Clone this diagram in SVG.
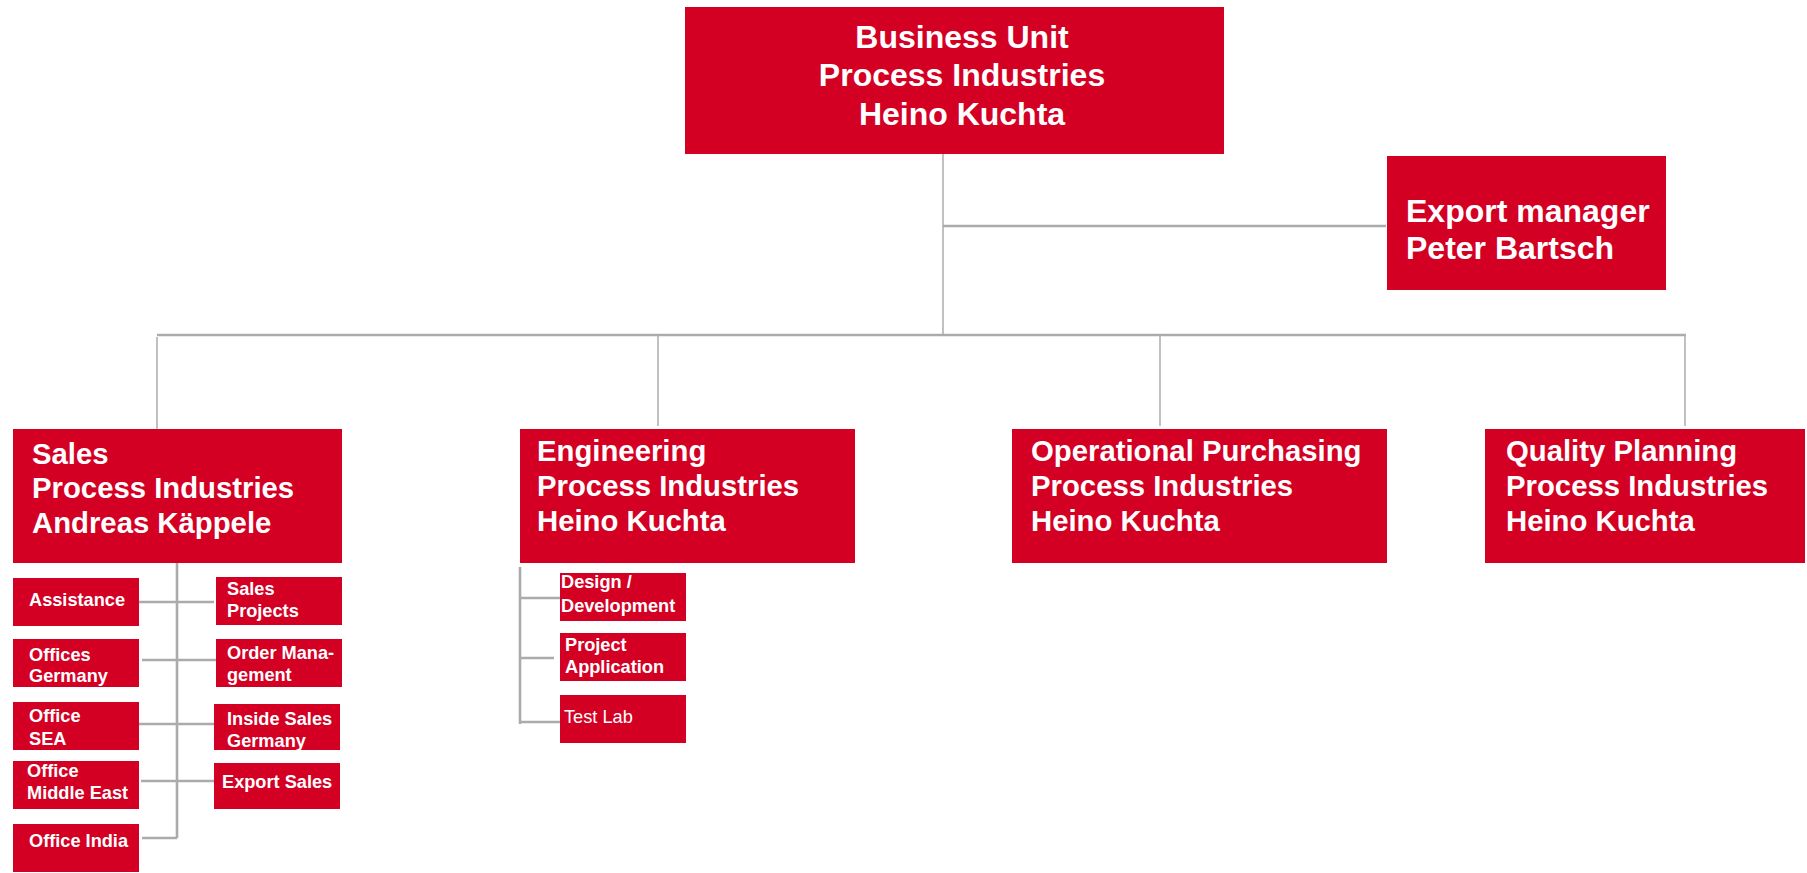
<svg xmlns="http://www.w3.org/2000/svg" width="1807" height="873" viewBox="0 0 1807 873">
<style>
.box{fill:#d40024}
.t{font-family:"Liberation Sans",Arial,sans-serif;font-weight:bold;fill:#fff}
.t32{font-size:32px}
.t29{font-size:29.3px}
.t18{font-size:18.2px}
.n{font-weight:normal}
.ln{stroke:#b1b1b1;stroke-width:1.6;fill:none}
.lnb{stroke:#ababab;stroke-width:2.6;fill:none}
</style>
<rect width="1807" height="873" fill="#fff"/>
<g id="connectors">
<line class="ln" x1="943" y1="154" x2="943" y2="335"/>
<line class="lnb" x1="943" y1="226" x2="1386" y2="226"/>
<line class="lnb" x1="157" y1="335" x2="1686" y2="335"/>
<line class="ln" x1="157" y1="337" x2="157" y2="429"/>
<line class="ln" x1="658" y1="335" x2="658" y2="426"/>
<line class="ln" x1="1160" y1="335" x2="1160" y2="426"/>
<line class="ln" x1="1685" y1="335" x2="1685" y2="426"/>
<line class="lnb" x1="177" y1="563" x2="177" y2="838"/>
<line class="lnb" x1="139" y1="602" x2="214" y2="602"/>
<line class="lnb" x1="142" y1="660" x2="216" y2="660"/>
<line class="lnb" x1="138" y1="724" x2="216" y2="724"/>
<line class="lnb" x1="141" y1="781" x2="214" y2="781"/>
<line class="lnb" x1="142" y1="838" x2="177" y2="838"/>
<line class="lnb" x1="520" y1="567" x2="520" y2="724"/>
<line class="lnb" x1="520" y1="598" x2="560" y2="598"/>
<line class="lnb" x1="520" y1="658" x2="554" y2="658"/>
<line class="lnb" x1="520" y1="722" x2="560" y2="722"/>
</g>
<g id="bu">
<rect class="box" x="685" y="7" width="539" height="147"/>
<text class="t t32" text-anchor="middle"><tspan x="962" y="48">Business Unit</tspan><tspan x="962" y="86">Process Industries</tspan><tspan x="962" y="125">Heino Kuchta</tspan></text>
</g>
<g id="export">
<rect class="box" x="1387" y="156" width="279" height="134"/>
<text class="t t32"><tspan x="1406" y="222">Export manager</tspan><tspan x="1406" y="259">Peter Bartsch</tspan></text>
</g>
<g id="sales">
<rect class="box" x="13" y="429" width="329" height="134"/>
<text class="t t29"><tspan x="32" y="464">Sales</tspan><tspan x="32" y="498">Process Industries</tspan><tspan x="32" y="533">Andreas Käppele</tspan></text>
</g>
<g id="engineering">
<rect class="box" x="520" y="429" width="335" height="134"/>
<text class="t t29"><tspan x="537" y="461">Engineering</tspan><tspan x="537" y="496">Process Industries</tspan><tspan x="537" y="531">Heino Kuchta</tspan></text>
</g>
<g id="purchasing">
<rect class="box" x="1012" y="429" width="375" height="134"/>
<text class="t t29"><tspan x="1031" y="461">Operational Purchasing</tspan><tspan x="1031" y="496">Process Industries</tspan><tspan x="1031" y="531">Heino Kuchta</tspan></text>
</g>
<g id="quality">
<rect class="box" x="1485" y="429" width="320" height="134"/>
<text class="t t29"><tspan x="1506" y="461">Quality Planning</tspan><tspan x="1506" y="496">Process Industries</tspan><tspan x="1506" y="531">Heino Kuchta</tspan></text>
</g>
<g id="assistance">
<rect class="box" x="13" y="578" width="126" height="48"/>
<text class="t t18" x="29" y="606">Assistance</text>
</g>
<g id="sales-projects">
<rect class="box" x="216" y="577" width="126" height="48"/>
<text class="t t18"><tspan x="227" y="595">Sales</tspan><tspan x="227" y="617">Projects</tspan></text>
</g>
<g id="offices-germany">
<rect class="box" x="13" y="639" width="126" height="48"/>
<text class="t t18"><tspan x="29" y="661">Offices</tspan><tspan x="29" y="682">Germany</tspan></text>
</g>
<g id="order-management">
<rect class="box" x="216" y="639" width="126" height="48"/>
<text class="t t18"><tspan x="227" y="659">Order Mana-</tspan><tspan x="227" y="681">gement</tspan></text>
</g>
<g id="office-sea">
<rect class="box" x="13" y="702" width="126" height="48"/>
<text class="t t18"><tspan x="29" y="722">Office</tspan><tspan x="29" y="745">SEA</tspan></text>
</g>
<g id="inside-sales">
<rect class="box" x="214" y="704" width="126" height="46"/>
<text class="t t18"><tspan x="227" y="725">Inside Sales</tspan><tspan x="227" y="747">Germany</tspan></text>
</g>
<g id="office-me">
<rect class="box" x="13" y="761" width="126" height="48"/>
<text class="t t18"><tspan x="27" y="777">Office</tspan><tspan x="27" y="799">Middle East</tspan></text>
</g>
<g id="export-sales">
<rect class="box" x="214" y="763" width="126" height="46"/>
<text class="t t18" x="222" y="788">Export Sales</text>
</g>
<g id="office-india">
<rect class="box" x="13" y="824" width="126" height="48"/>
<text class="t t18" x="29" y="847">Office India</text>
</g>
<g id="design">
<rect class="box" x="560" y="573" width="126" height="48"/>
<text class="t t18"><tspan x="561" y="588">Design /</tspan><tspan x="561" y="612">Development</tspan></text>
</g>
<g id="project-application">
<rect class="box" x="560" y="633" width="126" height="48"/>
<text class="t t18"><tspan x="565" y="651">Project</tspan><tspan x="565" y="673">Application</tspan></text>
</g>
<g id="test-lab">
<rect class="box" x="560" y="695" width="126" height="48"/>
<text class="t t18 n" x="564" y="723">Test Lab</text>
</g>
</svg>
